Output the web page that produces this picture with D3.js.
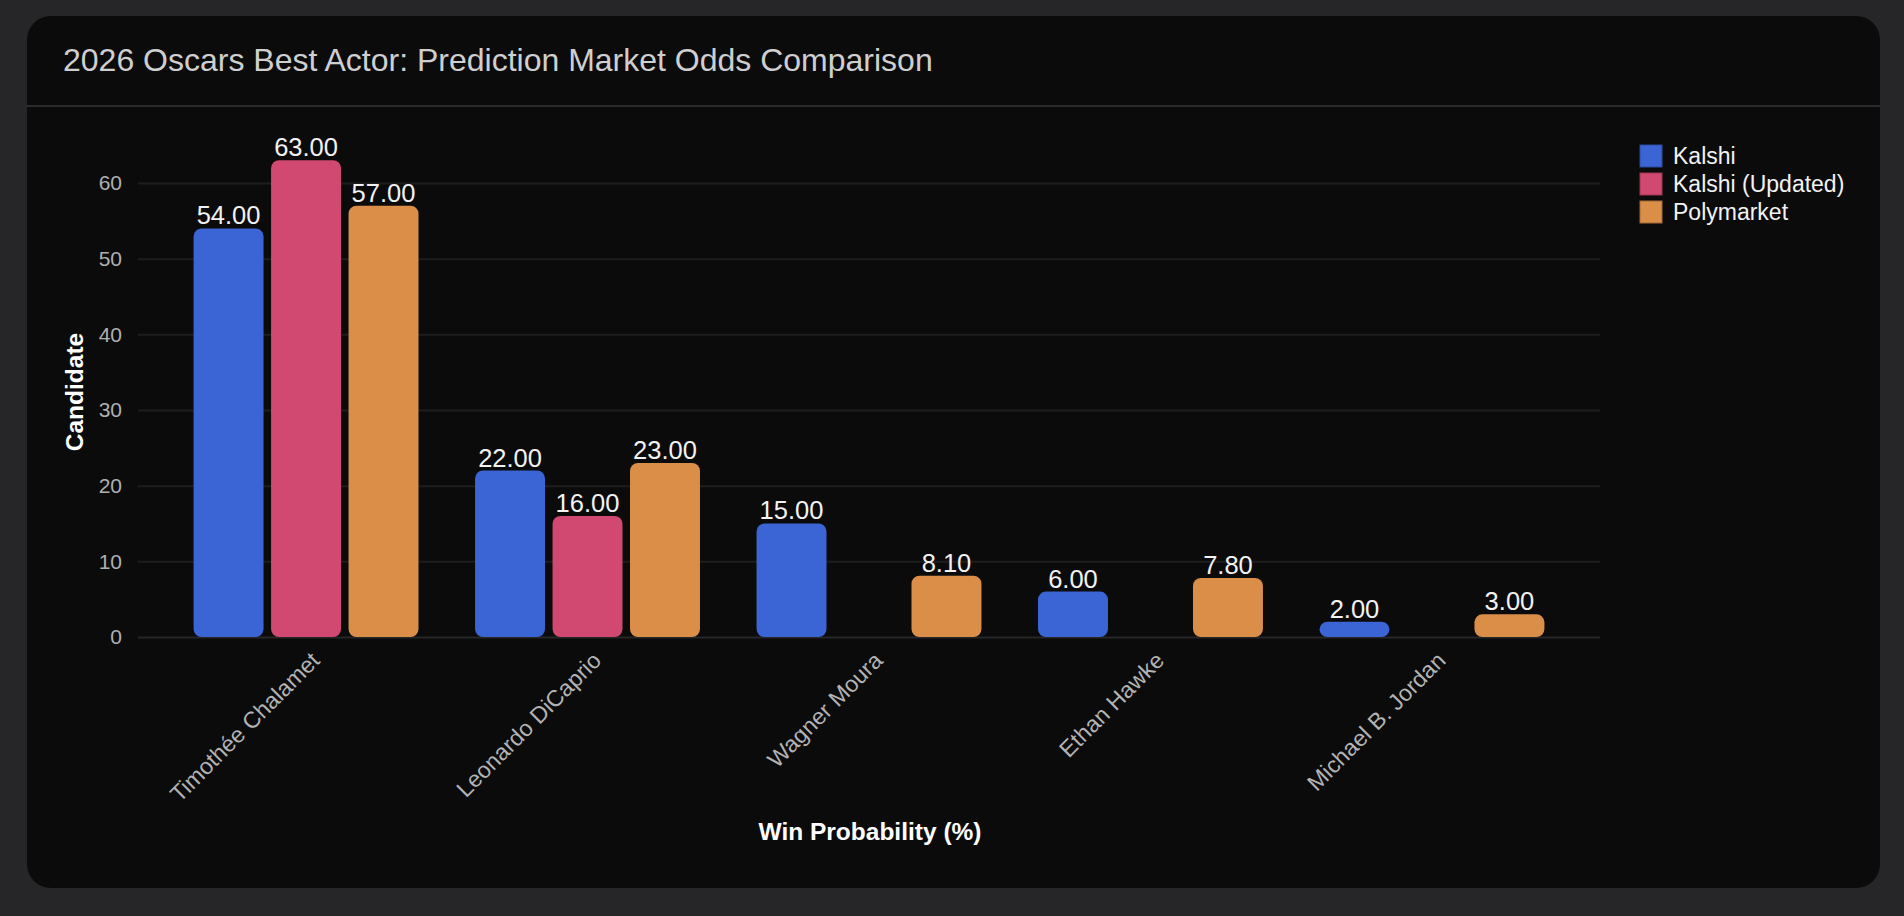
<!DOCTYPE html>
<html>
<head>
<meta charset="utf-8">
<script src="https://cdn.jsdelivr.net/npm/d3@7"></script>
<style>
  html, body { margin: 0; padding: 0; background: #262628; }
  svg { display: block; }
  text { font-family: "Liberation Sans", Arial, sans-serif; }
</style>
</head>
<body>
<svg id="chart" width="1904" height="916"></svg>
<script>
const title = "2026 Oscars Best Actor: Prediction Market Odds Comparison";
const categories = ["Timothée Chalamet", "Leonardo DiCaprio", "Wagner Moura", "Ethan Hawke", "Michael B. Jordan"];
const seriesNames = ["Kalshi", "Kalshi (Updated)", "Polymarket"];
const kalshi = [54, 22, 15, 6, 2];
const kalshiUpdated = [63, 16, null, null, null];
const polymarket = [57, 23, 8.1, 7.8, 3];
const seriesColors = ["#3b64d4", "#d14870", "#db8e48"];
const yTicks = [0, 10, 20, 30, 40, 50, 60];
const xAxisTitle = "Win Probability (%)";
const yAxisTitle = "Candidate";

const seriesValues = [kalshi, kalshiUpdated, polymarket];
const rows = [];
categories.forEach((c, i) => {
  seriesNames.forEach((s, j) => {
    const v = seriesValues[j][i];
    if (v !== null && v !== undefined) rows.push({ cat: c, series: s, value: v });
  });
});

const svg = d3.select("#chart");

// card
svg.append("rect").attr("x", 27).attr("y", 16).attr("width", 1853).attr("height", 872)
  .attr("rx", 24).attr("fill", "#0b0b0b");
svg.append("line").attr("x1", 27).attr("x2", 1880).attr("y1", 106).attr("y2", 106)
  .attr("stroke", "#2b2b2b").attr("stroke-width", 2);
svg.append("text").attr("x", 63).attr("y", 71).attr("fill", "#cfcfcf")
  .attr("font-size", 32).text(title);

const plotLeft = 138, plotRight = 1600;
const y = d3.scaleLinear().domain([0, 70]).range([637, 637 - 70 * 7.567]);
const x0 = d3.scaleBand().domain(categories).range([plotLeft, plotRight])
  .paddingInner(0).paddingOuter(0.097);
const x1 = d3.scaleBand().domain(seriesNames).range([0, x0.bandwidth()])
  .paddingInner(0.097).paddingOuter(0.365);
const color = d3.scaleOrdinal().domain(seriesNames).range(seriesColors);

// grid + y axis
const yAxis = d3.axisLeft(y).tickValues(yTicks).tickSize(-(plotRight - plotLeft)).tickPadding(16);
const gy = svg.append("g").attr("transform", `translate(${plotLeft},0)`).call(yAxis);
gy.select(".domain").remove();
gy.selectAll(".tick line").attr("stroke", "#1e1e1e").attr("stroke-width", 2);
gy.selectAll(".tick").filter(d => d === 0).select("line").attr("stroke", "#262626");
gy.selectAll(".tick text").attr("fill", "#b0b0b0").attr("font-size", 21)
  .attr("font-family", "Liberation Sans, Arial, sans-serif");

// bars
svg.append("g").selectAll("rect").data(rows).join("rect")
  .attr("x", d => x0(d.cat) + x1(d.series))
  .attr("y", d => y(d.value))
  .attr("width", x1.bandwidth())
  .attr("height", d => y(0) - y(d.value))
  .attr("rx", 8).attr("ry", 8)
  .attr("fill", d => color(d.series));

// value labels
const fmt = d3.format(".2f");
svg.append("g").selectAll("text").data(rows).join("text")
  .attr("x", d => x0(d.cat) + x1(d.series) + x1.bandwidth() / 2)
  .attr("y", d => y(d.value) - 4)
  .attr("text-anchor", "middle").attr("fill", "#f2f2f2").attr("font-size", 25.5)
  .text(d => fmt(d.value));

// x axis labels
const xAxis = d3.axisBottom(x0).tickSize(0).tickPadding(0);
const gx = svg.append("g").attr("transform", `translate(0,${y(0)})`).call(xAxis);
gx.select(".domain").remove();
gx.selectAll(".tick text")
  .attr("font-size", 23).attr("fill", "#b3b3b3")
  .attr("font-family", "Liberation Sans, Arial, sans-serif")
  .attr("text-anchor", "end")
  .attr("dy", "0")
  .attr("y", 0)
  .attr("transform", "translate(15,25) rotate(-45)");

// axis titles
svg.append("text").attr("x", 870).attr("y", 840).attr("text-anchor", "middle")
  .attr("fill", "#ffffff").attr("font-size", 24.5).attr("font-weight", "bold").text(xAxisTitle);
svg.append("text").attr("transform", "translate(83,392) rotate(-90)").attr("text-anchor", "middle")
  .attr("fill", "#ffffff").attr("font-size", 24.5).attr("font-weight", "bold").text(yAxisTitle);

// legend
const lg = svg.append("g").attr("transform", "translate(1640,145)");
const li = lg.selectAll("g").data(seriesNames).join("g")
  .attr("transform", (d, i) => `translate(0,${i * 28})`);
li.append("rect").attr("width", 22).attr("height", 22)
  .attr("fill", d => color(d)).attr("stroke", d => d3.color(color(d)).darker(0.8)).attr("stroke-width", 1);
li.append("text").attr("x", 33).attr("y", 19).attr("fill", "#f2f2f2").attr("font-size", 23).text(d => d);
</script>
</body>
</html>
